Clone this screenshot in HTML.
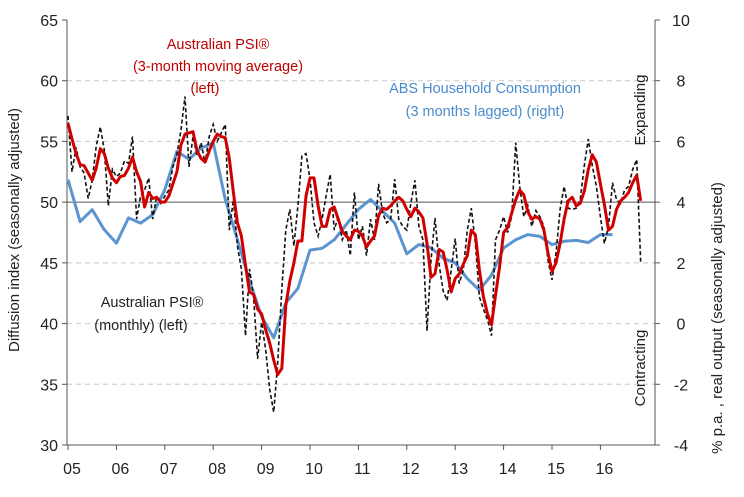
<!DOCTYPE html>
<html><head><meta charset="utf-8"><style>
body{margin:0;background:#fff;}
svg{display:block;font-family:"Liberation Sans",sans-serif;}
</style></head><body>
<svg id="chart" width="744" height="497" viewBox="0 0 744 497">
<g id="grid"></g>
<g id="axes"></g>
<g id="series"></g>
<g>
<text x="218" y="49" text-anchor="middle" font-size="14.5" fill="#c00000">Australian PSI®</text>
<text x="218" y="71" text-anchor="middle" font-size="14.5" fill="#c00000">(3-month moving average)</text>
<text x="205" y="93" text-anchor="middle" font-size="14.5" fill="#c00000">(left)</text>
<text x="485" y="93" text-anchor="middle" font-size="14.5" fill="#4a8bcb">ABS Household Consumption</text>
<text x="485" y="116" text-anchor="middle" font-size="14.5" fill="#4a8bcb">(3 months lagged) (right)</text>
<text x="152" y="307" text-anchor="middle" font-size="14.5" fill="#222">Australian PSI®</text>
<text x="141" y="330" text-anchor="middle" font-size="14.5" fill="#222">(monthly) (left)</text>
<text transform="translate(19,230) rotate(-90)" text-anchor="middle" font-size="15" fill="#222">Diffusion index (seasonally adjusted)</text>
<text transform="translate(722,318) rotate(-90)" text-anchor="middle" font-size="15" fill="#222">% p.a. , real output (seasonally adjusted)</text>
<text transform="translate(645,110) rotate(-90)" text-anchor="middle" font-size="15" fill="#222">Expanding</text>
<text transform="translate(645,368) rotate(-90)" text-anchor="middle" font-size="15" fill="#222">Contracting</text>
</g>
</svg>
<script>
const yearLabels=["05","06","07","08","09","10","11","12","13","14","15","16"];
const leftTicks=[30,35,40,45,50,55,60,65];
const rightTicks=[-4,-2,0,2,4,6,8,10];
const psiMonthly=[57.1,52.5,54.5,52.9,52.4,50.3,51.8,54.6,56.2,54.3,49.7,52.7,52.1,52.4,53.4,53.2,55.4,48.6,50.5,51,52,48.6,50.5,49.9,50.5,51,52.9,53.9,55.9,58.7,52.9,55.4,53.8,54.9,53.2,55.4,56.4,55,55.7,56.4,47.7,50.2,46.4,44.5,39,44.5,42.3,37.1,40.1,37.9,34.6,32.7,36.8,42.8,47.7,49.4,46.4,49.7,53.8,54,51.9,48.3,47.2,48.6,50.5,52.3,47.7,48.8,46.9,47.7,45.6,50.8,46.9,48,45.6,48.6,46.9,51.5,49.1,48.3,48.6,51.9,48.6,48,47.7,49.9,51.8,48,46.9,39.4,45.2,48.7,44.9,42.7,41.9,44.4,47,43.3,44.4,47.7,49.5,46.6,42.2,41.2,40.3,39,46.9,47.7,48.8,47.5,48.8,54.9,51.3,48.8,49.7,48,49.3,48.8,48,45.2,43.6,45.8,49.4,51.3,49.5,49.4,49.5,50.2,53,55.2,53,51.3,48.8,46.6,48,51.6,50.2,49.9,51,51.3,52.7,53.5,45];
const psiAvg=[56.5,55.2,54,53.1,53,52.4,51.8,52.8,54.4,54,52.8,52,51.6,52.1,52.2,52.8,53.7,52.5,51.7,49.6,50.8,50.3,50.4,50,50,50.5,51.5,52.5,54.7,55.6,55.7,55.8,54.2,53.6,53.3,54.2,55,55.6,55.4,55.3,53.6,50.8,48.3,47.2,44.8,42.6,42.4,41.2,40.8,39.5,38.4,37,35.8,36.3,41.5,43.5,45,46.8,46.8,50.5,52,52,49.7,48,48,49.4,49.6,48.6,47.6,47.2,46.9,47.7,47.6,47.2,46.3,46.8,47.2,48.9,49.5,49.4,49.7,50.1,50.4,50.1,49.4,48.8,49.5,49.2,48.7,46.6,43.8,44.1,46.1,45.9,44.4,42.6,43.7,44.1,44.9,45.6,47.7,47.3,44.4,42.2,40.8,39.9,42.3,44.7,47.5,47.9,49.1,50.2,51,50.6,49.2,48.6,48.8,48.6,47.7,45.8,44.3,45,46.6,48.6,50.1,50.4,49.7,49.9,50.9,52.7,53.9,53.3,51.5,49.8,47.7,48,49.4,50.1,50.4,50.8,51.6,52.2,50.1];
const absConsumption=[4.74,3.36,3.75,3.09,2.65,3.48,3.31,3.59,4.41,5.67,5.41,5.78,5.95,4.09,2.77,1.4,0.24,-0.47,0.68,1.16,2.42,2.48,2.76,3.26,3.76,4.09,3.7,3.31,2.3,2.6,2.5,2.15,2.0,1.48,1.1,1.6,2.49,2.76,2.93,2.87,2.6,2.71,2.74,2.67,2.93,2.93];

const NS="http://www.w3.org/2000/svg";
const X0=67,X1=655,Y0=445,Y1=20;
function xMonth(m){return 68+m*48.4/12;}
function yLeft(v){return Y0-(v-30)/35*(Y0-Y1);}
function yRight(v){return Y0-(v+4)/14*(Y0-Y1);}
function mk(tag,attrs,parent){const e=document.createElementNS(NS,tag);for(const k in attrs)e.setAttribute(k,attrs[k]);parent.appendChild(e);return e;}
const grid=document.getElementById('grid'),axes=document.getElementById('axes'),series=document.getElementById('series');
leftTicks.forEach(t=>{
  const y=yLeft(t);
  if(t>30&&t<65&&t!==50){const l=mk('line',{x1:X0,x2:X1,y1:y,y2:y,stroke:'#c8c8c8','stroke-dasharray':'5,4','stroke-width':1},grid);
  
  }
  const tk=mk('line',{x1:X0-5,x2:X0,y1:y,y2:y,stroke:'#555'},axes);
  
  
  const tx=mk('text',{x:X0-9,y:y+6,'text-anchor':'end','font-size':16,fill:'#222'},axes);tx.textContent=t;
  
  
});
const zl=mk('line',{x1:X0,x2:X1,y1:yLeft(50),y2:yLeft(50),stroke:'#555','stroke-width':1},grid);


rightTicks.forEach(t=>{
  const y=yRight(t);
  const tk=mk('line',{x1:X1,x2:X1+5,y1:y,y2:y,stroke:'#555'},axes);
  
  
  const tx=mk('text',{x:X1+26,y:y+6,'text-anchor':'middle','font-size':16,fill:'#222'},axes);tx.textContent=t;
  
  
});
const la=mk('line',{x1:X0,x2:X0,y1:Y1,y2:Y0,stroke:'#555'},axes);


const ra=mk('line',{x1:X1,x2:X1,y1:Y1,y2:Y0,stroke:'#555'},axes);


const ba=mk('line',{x1:X0,x2:X1,y1:Y0,y2:Y0,stroke:'#555'},axes);


yearLabels.forEach((lab,i)=>{
  const x=xMonth(i*12)+4;
  const tk=mk('line',{x1:xMonth(i*12),x2:xMonth(i*12),y1:Y0,y2:Y0+5,stroke:'#555'},axes);
  
  
  const tx=mk('text',{x:x,y:Y0+29,'text-anchor':'middle','font-size':16,fill:'#222'},axes);tx.textContent=lab;
  
  
});
function pts(arr,fx,fy){return arr.map((v,i)=>fx(i).toFixed(1)+','+fy(v).toFixed(1)).join(' ');}
const blue=mk('polyline',{points:pts(absConsumption,i=>xMonth(i*3),yRight),fill:'none',stroke:'#5b95d1','stroke-width':3,'stroke-linejoin':'round'},series);


const blk=mk('polyline',{points:pts(psiMonthly,xMonth,yLeft),fill:'none',stroke:'#111','stroke-width':1.6,'stroke-dasharray':'4,2.5'},series);


const red=mk('polyline',{points:pts(psiAvg,xMonth,yLeft),fill:'none',stroke:'#d00000','stroke-width':3,'stroke-linejoin':'round'},series);


</script>
</body></html>
